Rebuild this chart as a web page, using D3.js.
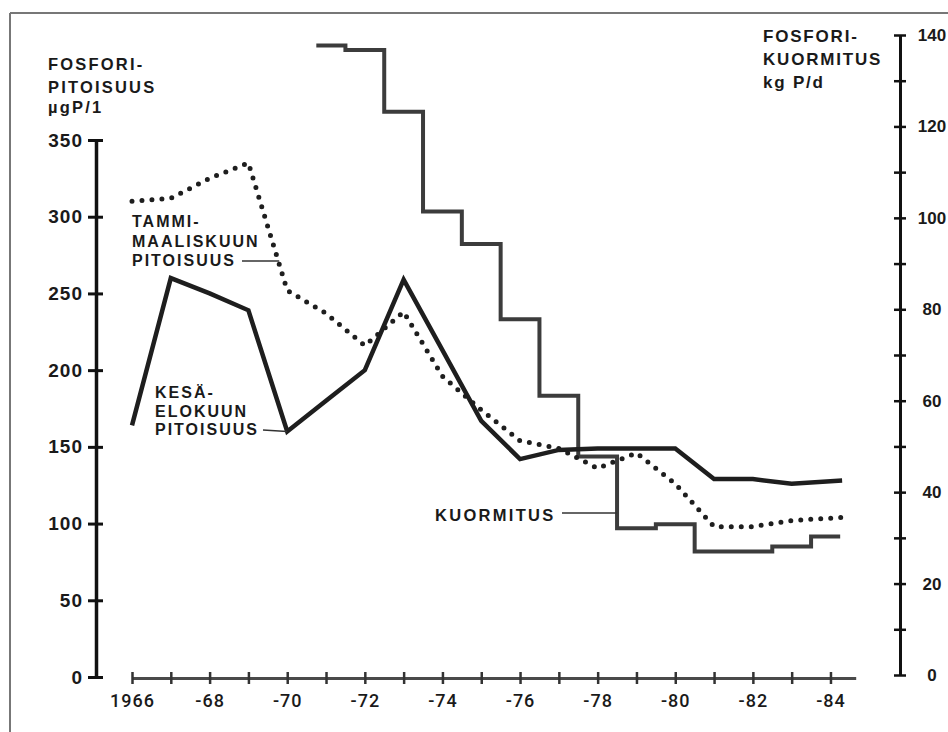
<!DOCTYPE html>
<html>
<head>
<meta charset="utf-8">
<script src="https://cdn.jsdelivr.net/npm/d3@7"></script>
<style>
body { margin: 0; background: #fff; }
text { font-family: "Liberation Sans", Arial, sans-serif; font-weight: bold; fill: #1a1a1a; }
</style>
</head>
<body>
<div id="chart-area"></div>
<script>
let width = 948,
height = 732

// phosphorus concentration, µg P/l (last point = end of the 1984 record)
let concYears = [1966, 1967, 1968, 1969, 1970, 1971, 1972, 1973, 1974, 1975,
                 1976, 1977, 1978, 1979, 1980, 1981, 1982, 1983, 1984.3]
let summerConc = [164, 260, 250, 239, 160, 180, 200, 259, 213, 167,
                  142, 148, 149, 149, 149, 129, 129, 126, 128]
let winterConc = [310, 312, 325, 335, 252, 237, 216, 238, 196, 174,
                  154, 149, 136, 146, 126, 98, 98, 102, 104]

// phosphorus load, kg P/d, one value per year
let loadYears = [1971, 1972, 1973, 1974, 1975, 1976, 1977, 1978, 1979, 1980, 1981, 1982, 1983, 1984]
let loadValues = [137.7, 136.7, 123.2, 101.4, 94.3, 77.8, 61.1, 47.8, 32.1, 33.0, 27.0, 27.0, 28.1, 30.3]
let loadStart = 1970.75, loadEnd = 1984.25

let xTickYears = d3.range(1966, 1985)
let xTickLabels = ['1966', '-68', '-70', '-72', '-74', '-76', '-78', '-80', '-82', '-84']
let leftTicks = [0, 50, 100, 150, 200, 250, 300, 350]
let rightTicks = d3.range(0, 141, 10)

let svg = d3.select('#chart-area').append('svg')
  .attr('width', width)
  .attr('height', height)

// frame
svg.append('line').attr('x1', 10).attr('x2', width).attr('y1', 13).attr('y2', 13)
  .attr('stroke', '#777').attr('stroke-width', 2)
svg.append('line').attr('x1', 10).attr('x2', 10).attr('y1', 13).attr('y2', height)
  .attr('stroke', '#777').attr('stroke-width', 2)

let x = d3.scaleLinear().domain([1966, 1984.65]).range([132, 855.7])
let yL = d3.scaleLinear().domain([0, 350]).range([677, 140])
let yR = d3.scaleLinear().domain([0, 140]).range([675, 35])

// left axis
let gL = svg.append('g').attr('transform', 'translate(96,0)')
  .call(d3.axisLeft(yL).tickValues(leftTicks).tickSize(8).tickPadding(5).tickSizeOuter(0))
gL.select('.domain').attr('stroke', '#111').attr('stroke-width', 3.5)
gL.selectAll('.tick line').attr('x1', 7).attr('x2', -8).attr('stroke', '#111').attr('stroke-width', 3)
gL.selectAll('.tick text').style('font-size', '19px').style('letter-spacing', '1px')
  .style('font-family', '"Liberation Sans", Arial, sans-serif').style('font-weight', 'bold')
  .attr('fill', '#1a1a1a')

// right axis
let gR = svg.append('g').attr('transform', 'translate(900,0)')
  .call(d3.axisRight(yR).tickValues(rightTicks).tickSize(6).tickSizeOuter(0)
    .tickFormat(d => d % 20 === 0 ? d : ''))
gR.select('.domain').attr('stroke', '#111').attr('stroke-width', 3)
gR.selectAll('.tick line').attr('x1', -6).attr('x2', 6).attr('stroke', '#111').attr('stroke-width', 2.5)
gR.selectAll('.tick text').attr('x', 32).attr('text-anchor', 'middle')
  .style('font-size', '17px').style('letter-spacing', '0px')
  .style('font-family', '"Liberation Sans", Arial, sans-serif').style('font-weight', 'bold')
  .attr('fill', '#1a1a1a')

// x axis
let gX = svg.append('g').attr('transform', 'translate(0,678)')
  .call(d3.axisBottom(x).tickValues(xTickYears).tickSizeOuter(0)
    .tickFormat(d => (d - 1966) % 2 === 0 ? xTickLabels[(d - 1966) / 2] : ''))
gX.select('.domain').attr('stroke', '#4a4a4a').attr('stroke-width', 3)
gX.selectAll('.tick line').attr('y1', -6).attr('y2', 6).attr('stroke', '#333').attr('stroke-width', 2.5)
gX.selectAll('.tick text').attr('y', 16)
  .style('font-size', '18px').style('letter-spacing', '1px')
  .style('font-family', 'Roboto, "Liberation Sans", sans-serif').style('font-weight', '500')
  .attr('fill', '#333')

// load step line
let loadPoints = loadYears.map((yr, i) => [i === 0 ? loadStart : yr - 0.5, loadValues[i]])
loadPoints.push([loadEnd, loadValues[loadValues.length - 1]])

svg.append('path')
  .datum(loadPoints)
  .attr('d', d3.line().x(d => x(d[0])).y(d => yR(d[1])).curve(d3.curveStepAfter))
  .attr('fill', 'none')
  .attr('stroke', '#3c3c3c')
  .attr('stroke-width', 4)

// winter concentration (dotted)
let concLine = d3.line().x(d => x(d[0])).y(d => yL(d[1]))

svg.append('path')
  .datum(concYears.map((yr, i) => [yr, winterConc[i]]))
  .attr('d', concLine)
  .attr('fill', 'none')
  .attr('stroke', '#1e1e1e')
  .attr('stroke-width', 5)
  .attr('stroke-linecap', 'round')
  .attr('stroke-dasharray', '0 10')

// summer concentration (solid)
svg.append('path')
  .datum(concYears.map((yr, i) => [yr, summerConc[i]]))
  .attr('d', concLine)
  .attr('fill', 'none')
  .attr('stroke', '#1e1e1e')
  .attr('stroke-width', 4.5)
  .attr('stroke-linejoin', 'miter')

// text blocks
function block(lines, x0, y0, lh, size, ls) {
  let t = svg.append('text')
    .attr('x', x0).attr('y', y0)
    .style('font-size', size + 'px')
    .style('letter-spacing', ls + 'px')
  lines.forEach((s, i) => {
    t.append('tspan').attr('x', x0).attr('y', y0 + (lh[i] || 0)).text(s)
  })
}

block(['FOSFORI-', 'PITOISUUS', 'µgP/1'], 48, 70, [0, 23, 43], 16.5, 2.2)
block(['FOSFORI-', 'KUORMITUS', 'kg P/d'], 763, 42, [0, 23, 46], 17, 1.8)
block(['TAMMI-', 'MAALISKUUN', 'PITOISUUS'], 132, 227, [0, 19.5, 38.5], 16, 2)
block(['KESÄ-', 'ELOKUUN', 'PITOISUUS'], 155, 398, [0, 18.5, 37], 16, 2)
block(['KUORMITUS'], 435, 521, [0], 16.5, 2.3)

// leader lines
let leader = (x1, y1, x2, y2) => svg.append('line')
  .attr('x1', x1).attr('y1', y1).attr('x2', x2).attr('y2', y2)
  .attr('stroke', '#333').attr('stroke-width', 1.6)

leader(242, 261, x(1970) - 8, 261)
leader(263, 430, x(1970), yL(summerConc[4]))
leader(562, 513, x(1978.5), 513)
</script>
</body>
</html>
